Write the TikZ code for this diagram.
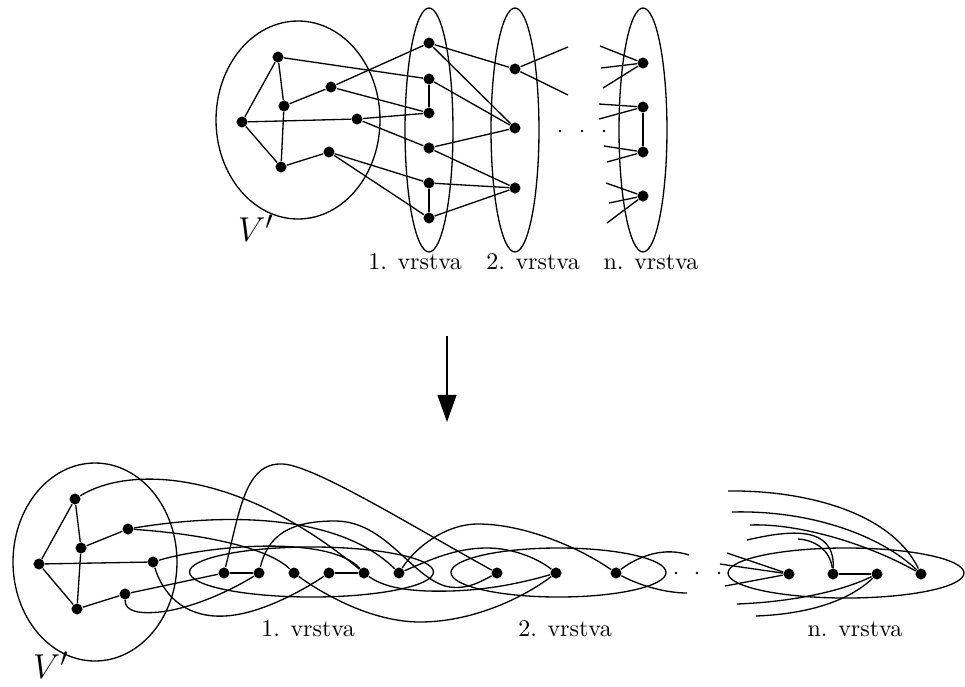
\documentclass[tikz,border=0pt]{standalone}
\usetikzlibrary{arrows.meta}
\begin{document}
\begin{tikzpicture}[x=0.417pt,y=-0.417pt,
  vtx/.style={circle,fill=black,inner sep=0pt,minimum size=4.6pt},
  sdot/.style={circle,fill=black,inner sep=0pt,minimum size=1.2pt},
  edge/.style={line width=0.55pt},
  group/.style={line width=0.55pt},
  lbl/.style={anchor=base,inner sep=0pt,font=\fontsize{10}{12}\selectfont},
  vlbl/.style={inner sep=0pt,font=\fontsize{15}{18}\selectfont}]
\useasboundingbox (0,0) rectangle (965,686);

% ---------- upper graph: layers drawn as vertical ovals ----------
\draw[group] (298,120) ellipse [x radius=34.19pt, y radius=41.28pt];
\draw[group] (429,130) ellipse [x radius=10pt, y radius=50.87pt];
\draw[group] (515,130) ellipse [x radius=10pt, y radius=50.87pt];
\draw[group] (643,130) ellipse [x radius=10pt, y radius=50.87pt];
\node[vlbl] (tV) at (256,228) {$V'$};

\node[vtx] (tA) at (278,57) {};
\node[vtx] (tB) at (284,106) {};
\node[vtx] (tC) at (242,122) {};
\node[vtx] (tD) at (281,167) {};
\node[vtx] (tE) at (331,87) {};
\node[vtx] (tF) at (357,119) {};
\node[vtx] (tG) at (329,152) {};

\node[vtx] (t1a) at (429,43) {};
\node[vtx] (t1b) at (429,79) {};
\node[vtx] (t1c) at (429,113) {};
\node[vtx] (t1d) at (429,148) {};
\node[vtx] (t1e) at (429,183) {};
\node[vtx] (t1f) at (429,218) {};

\node[vtx] (t2a) at (515,69) {};
\node[vtx] (t2b) at (515,128) {};
\node[vtx] (t2c) at (515,188) {};

\node[vtx] (tna) at (643,63) {};
\node[vtx] (tnb) at (643,107) {};
\node[vtx] (tnc) at (643,152) {};
\node[vtx] (tnd) at (643,196) {};

\node[sdot] (td1) at (560,131) {};
\node[sdot] (td2) at (582,131) {};
\node[sdot] (td3) at (604,131) {};

\foreach \a/\b in {tA/tB,tB/tD,tC/tA,tC/tD,tC/tF,tB/tE,tD/tG,
    tA/t1b,tE/t1a,tE/t1c,tF/t1c,tF/t1d,tG/t1e,tG/t1f,
    t1b/t1c,t1e/t1f,
    t1a/t2a,t1a/t2b,t1b/t2b,t1d/t2b,t1d/t2c,t1e/t2c,t1f/t2c,
    tnb/tnc}
  \draw[edge] (\a) -- (\b);

% loose ends towards the omitted middle layers
\coordinate (o1) at (568,47);  \coordinate (o2) at (568,95);
\coordinate (i1) at (600,46);  \coordinate (i2) at (601,68);  \coordinate (i3) at (603,88);
\coordinate (i4) at (599,104); \coordinate (i5) at (599,119);
\coordinate (i6) at (604,146); \coordinate (i7) at (607,162);
\coordinate (i8) at (606,183); \coordinate (i9) at (609,203); \coordinate (i10) at (607,223);
\foreach \a/\b in {t2a/o1,t2a/o2,tna/i1,tna/i2,tna/i3,tnb/i4,tnb/i5,
    tnc/i6,tnc/i7,tnd/i8,tnd/i9,tnd/i10}
  \draw[edge] (\a) -- (\b);

\node[lbl] (tl1) at (415,269) {1. vrstva};
\node[lbl] (tl2) at (533,269) {2. vrstva};
\node[lbl] (tl3) at (651,269) {n. vrstva};

% ---------- transformation arrow ----------
\coordinate (arrS) at (447,336);
\coordinate (arrE) at (447,422);
\draw[edge,-{Triangle[length=11.3pt,width=7.9pt]}] (arrS) -- (arrE);

% ---------- lower graph: layers drawn as horizontal ovals ----------
\draw[group] (95,562) ellipse [x radius=34.19pt, y radius=41.28pt];
\draw[group] (311.5,572) ellipse [x radius=50.87pt, y radius=10.43pt];
\draw[group] (558.5,572.5) ellipse [x radius=44.83pt, y radius=10.22pt];
\draw[group] (846,573) ellipse [x radius=49.2pt, y radius=10.43pt];
\node[vlbl] (bV) at (51,665) {$V'$};

\node[vtx] (bA) at (75,499) {};
\node[vtx] (bB) at (81,548) {};
\node[vtx] (bC) at (39,564) {};
\node[vtx] (bD) at (77,609) {};
\node[vtx] (bE) at (128,529) {};
\node[vtx] (bF) at (153,562) {};
\node[vtx] (bG) at (125,594) {};

\node[vtx] (p1) at (224,573) {};
\node[vtx] (p2) at (259,573) {};
\node[vtx] (p3) at (294,573) {};
\node[vtx] (p4) at (329,573) {};
\node[vtx] (p5) at (364,573) {};
\node[vtx] (p6) at (399,573) {};

\node[vtx] (q1) at (497,573) {};
\node[vtx] (q2) at (556,573) {};
\node[vtx] (q3) at (616,573) {};

\node[vtx] (r1) at (789,574) {};
\node[vtx] (r2) at (833,574) {};
\node[vtx] (r3) at (877,574) {};
\node[vtx] (r4) at (921,574) {};

\node[sdot] (bd1) at (676,573) {};
\node[sdot] (bd2) at (697,573) {};
\node[sdot] (bd3) at (719,573) {};

\foreach \a/\b in {bA/bB,bB/bD,bC/bA,bC/bD,bC/bF,bB/bE,bD/bG,
    bG/p1,p1/p2,p4/p5,r2/r3}
  \draw[edge] (\a) -- (\b);

% edges from V' into the first layer
\draw[edge] (bA) .. controls (130,465) and (240,470) .. (p5);
\draw[edge] (bE) .. controls (190,533) and (265,545) .. (p3);
\draw[edge] (bE) .. controls (230,512) and (340,515) .. (p6);
\draw[edge] (bF) .. controls (210,545) and (330,535) .. (p5);
\draw[edge] (bF) .. controls (165,600) and (190,618) .. (225,616)
                  .. controls (260,614) and (300,592) .. (p4);
\draw[edge] (bG) .. controls (125,612) and (140,614) .. (160,612)
                  .. controls (195,608) and (235,588) .. (p2);

% edges between the first and the second layer
\draw[edge] (p1) .. controls (240,510) and (245,462) .. (283,464)
                  .. controls (315,466) and (410,525) .. (q1);
\draw[edge] (p2) .. controls (268,535) and (290,521) .. (335,521)
                  .. controls (385,521) and (410,575) .. (445,586)
                  .. controls (465,591) and (480,582) .. (q1);
\draw[edge] (p6) .. controls (415,548) and (445,524) .. (478,524)
                  .. controls (525,524) and (580,548) .. (q3);
\draw[edge] (p6) .. controls (430,560) and (455,548) .. (487,548)
                  .. controls (515,548) and (540,560) .. (q2);
\draw[edge] (p3) .. controls (320,592) and (370,622) .. (420,622)
                  .. controls (470,622) and (520,600) .. (q2);
\draw[edge] (p5) .. controls (385,588) and (410,592) .. (450,591)
                  .. controls (490,590) and (525,582) .. (q2);

% loose ends leaving the second layer
\coordinate (u1) at (689,555);
\coordinate (u2) at (687,593);
\draw[edge] (q3) .. controls (640,555) and (665,547) .. (u1);
\draw[edge] (q3) .. controls (645,588) and (670,593) .. (u2);

% loose ends entering the last layer
\coordinate (w1) at (727,553); \coordinate (w2) at (720,564); \coordinate (w3) at (725,586);
\foreach \c in {w1,w2,w3} \draw[edge] (\c) -- (r1);
\coordinate (w4) at (747,540); \coordinate (w5) at (798,539);
\draw[edge] (w4) .. controls (790,530) and (835,525) .. (r2);
\draw[edge] (w5) .. controls (815,540) and (830,550) .. (r2);
\coordinate (w6) at (737,604); \coordinate (w7) at (756,616);
\draw[edge] (w6) .. controls (790,602) and (840,592) .. (r3);
\draw[edge] (w7) .. controls (810,614) and (850,600) .. (r3);
\coordinate (w8) at (728,491); \coordinate (w9) at (732,512); \coordinate (w10) at (750,525);
\draw[edge] (w8) .. controls (800,490) and (890,510) .. (r4);
\draw[edge] (w9) .. controls (810,510) and (880,535) .. (r4);
\draw[edge] (w10) .. controls (800,523) and (870,545) .. (r4);

\node[lbl] (bl1) at (308,636) {1. vrstva};
\node[lbl] (bl2) at (565,636) {2. vrstva};
\node[lbl] (bl3) at (855,636) {n. vrstva};
\end{tikzpicture}
\end{document}
